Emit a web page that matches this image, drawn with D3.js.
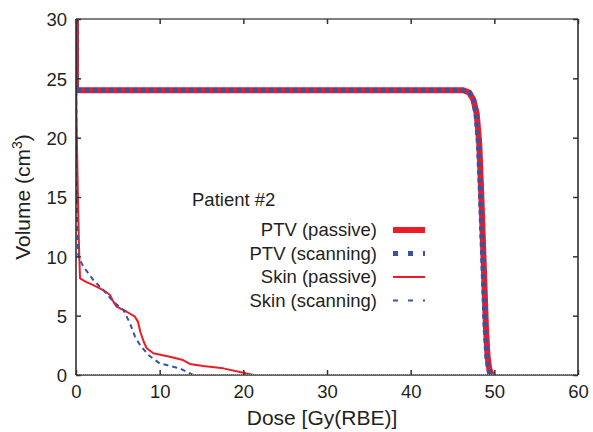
<!DOCTYPE html>
<html><head>
<meta charset="utf-8">
<script src="https://d3js.org/d3.v7.min.js"></script>
<style>
body { margin: 0; background: #fff; }
text { font-family: Arial, "Liberation Sans", sans-serif; fill: #231f20; }
</style>
</head>
<body>
<div id="chart"></div>
<script>
// dose [Gy(RBE)] vs volume [cm3]
var ptvPassive = [[0,30],[0,24],[46.3,24],[47.0,23.8],[47.5,23.2],[47.9,22],[48.2,19.5],[48.4,16],[48.6,12],[48.8,8],[49.0,4],[49.2,1.5],[49.4,0.5],[49.7,0]];
var ptvScanning = [[0,30],[0,24],[46.3,24],[47.0,23.8],[47.5,23.2],[47.8,22],[48.1,19.5],[48.3,16],[48.5,12],[48.7,8],[48.9,4],[49.1,1.5],[49.3,0.5],[49.5,0]];
var skinPassive = [[0,30],[0.05,22],[0.2,16],[0.35,11],[0.48,8.15],[1.2,7.85],[2.07,7.58],[3.26,7.16],[4.06,6.74],[4.46,6.18],[4.86,5.76],[6.06,5.33],[7.0,4.95],[7.4,4.5],[7.7,3.6],[8.1,2.8],[8.45,2.25],[9.24,1.83],[11.2,1.54],[12.8,1.26],[13.6,0.93],[15.2,0.76],[17.6,0.56],[20.0,0.19],[21.2,0]];
var skinScanning = [[0,30],[0.05,20],[0.15,13],[0.28,9.97],[0.88,9.13],[2.07,8.0],[3.26,7.16],[4.46,6.18],[5.66,5.48],[6.46,4.35],[7.05,3.23],[7.65,2.53],[8.64,1.69],[10.0,0.98],[12.4,0.56],[14.0,0]];
var xTicks = [0,10,20,30,40,50,60];
var yTicks = [0,5,10,15,20,25,30];
var legendLabels = ["PTV (passive)","PTV (scanning)","Skin (passive)","Skin (scanning)"];

var red = "#ed1c24", blue = "#3953a4";
var styles = [
  {data: ptvPassive, color: red, width: 6, dash: null},
  {data: ptvScanning, color: blue, width: 5, dash: "4.5,3.5"},
  {data: skinPassive, color: red, width: 2, dash: null},
  {data: skinScanning, color: blue, width: 2, dash: "5,4"}
];

var W = 593, H = 432;
var margin = {top: 19, right: 15, bottom: 57, left: 76};
var width = W - margin.left - margin.right;
var height = H - margin.top - margin.bottom;

var svg = d3.select("#chart").append("svg")
  .attr("width", W).attr("height", H);
var g = svg.append("g")
  .attr("transform", "translate(" + margin.left + "," + margin.top + ")");

var x = d3.scaleLinear().domain([0, 60]).range([0, width]);
var y = d3.scaleLinear().domain([0, 30]).range([height, 0]);

g.append("defs").append("clipPath").attr("id", "clip")
  .append("rect").attr("width", width).attr("height", height);

// curves
var line = d3.line().curve(d3.curveMonotoneX)
  .x(function(d) { return x(d[0]); }).y(function(d) { return y(d[1]); });
var curves = g.append("g").attr("clip-path", "url(#clip)");
styles.forEach(function(s) {
  curves.append("path")
    .datum(s.data)
    .attr("fill", "none")
    .attr("stroke", s.color)
    .attr("stroke-width", s.width)
    .attr("stroke-linejoin", "round")
    .attr("stroke-dasharray", s.dash)
    .attr("d", d3.line().x(line.x()).y(line.y()));
});

// frame
g.append("line").attr("x1", 0).attr("x2", width).attr("y1", 0).attr("y2", 0)
  .attr("stroke", "#555").attr("stroke-width", 1.5);
g.append("line").attr("x1", width).attr("x2", width).attr("y1", 0).attr("y2", height)
  .attr("stroke", "#222").attr("stroke-width", 1.5);
g.append("line").attr("x1", 0).attr("x2", 0).attr("y1", 0).attr("y2", height)
  .attr("stroke", "#222").attr("stroke-width", 1.5);
g.append("line").attr("x1", 0).attr("x2", width).attr("y1", height).attr("y2", height)
  .attr("stroke", "#333").attr("stroke-width", 1.5);
g.append("line").attr("x1", 0).attr("x2", width).attr("y1", height - 0.5).attr("y2", height - 0.5)
  .attr("stroke", "#999").attr("stroke-width", 1).attr("stroke-dasharray", "1,1");

// axes with inward ticks
var xAxis = g.append("g").attr("transform", "translate(0," + height + ")")
  .call(d3.axisBottom(x).tickValues(xTicks).tickSizeInner(-5).tickSizeOuter(0).tickPadding(10));
var yAxis = g.append("g")
  .call(d3.axisLeft(y).tickValues(yTicks).tickSizeInner(-5).tickSizeOuter(0).tickPadding(9));
g.append("g").call(d3.axisTop(x).tickValues(xTicks).tickSizeInner(-5).tickSizeOuter(0).tickFormat(""));
g.append("g").attr("transform", "translate(" + width + ",0)")
  .call(d3.axisRight(y).tickValues(yTicks).tickSizeInner(-5).tickSizeOuter(0).tickFormat(""));
g.selectAll(".domain").remove();
g.selectAll(".tick line").attr("stroke", "#333").attr("stroke-width", 1.5);
xAxis.selectAll("text").style("font-size", "18.5px").attr("fill", "#231f20");
yAxis.selectAll("text").style("font-size", "18.5px").attr("fill", "#231f20").attr("dy", "0.36em");

// axis titles
svg.append("text")
  .attr("x", margin.left + width / 2 - 5).attr("y", 425)
  .attr("text-anchor", "middle").style("font-size", "21px")
  .text("Dose [Gy(RBE)]");
var yt = svg.append("text")
  .attr("transform", "translate(30," + (margin.top + height / 2) + ") rotate(-90)")
  .attr("text-anchor", "middle").style("font-size", "21px");
yt.append("tspan").text("Volume (cm");
yt.append("tspan").attr("dy", -8).style("font-size", "14px").text("3");
yt.append("tspan").attr("dy", 8).text(")");

// legend
svg.append("text").attr("x", 192).attr("y", 206)
  .style("font-size", "18.5px").text("Patient #2");
var leg = svg.append("g");
legendLabels.forEach(function(lbl, i) {
  var yy = 236 + i * 23.5;
  leg.append("text").attr("x", 377).attr("y", yy)
    .attr("text-anchor", "end").style("font-size", "18.5px").text(lbl);
  var s = styles[i];
  leg.append("line").attr("x1", 393).attr("x2", 425)
    .attr("y1", yy - 6).attr("y2", yy - 6)
    .attr("stroke", s.color).attr("stroke-width", s.width)
    .attr("stroke-dasharray", (i === 1 || i === 3) ? "5,10" : null);
});
</script>
</body></html>
